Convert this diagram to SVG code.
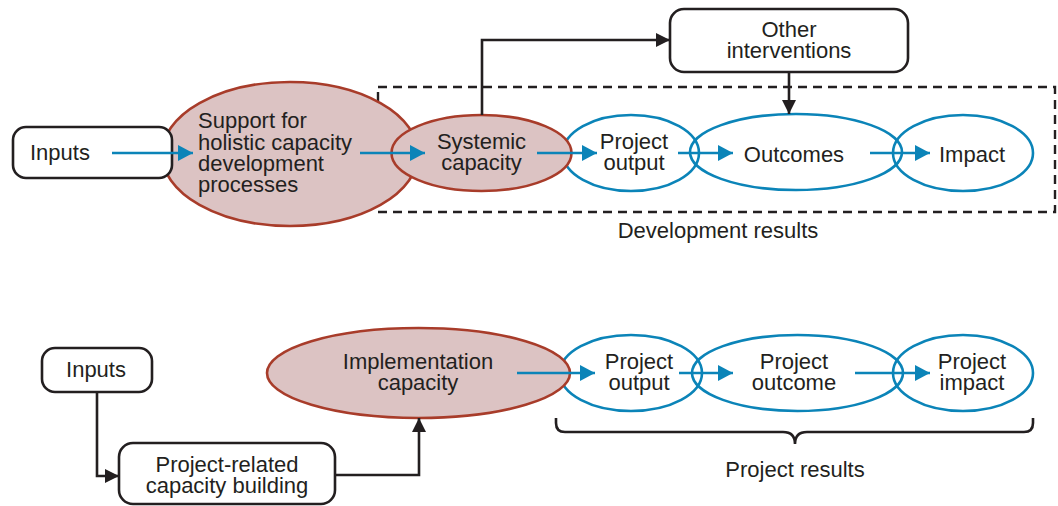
<svg xmlns="http://www.w3.org/2000/svg" width="1058" height="506" viewBox="0 0 1058 506">
<defs>
<style>
text{font-family:"Liberation Sans",Arial,sans-serif;font-size:22px;fill:#231f20}
.c{text-anchor:middle}
.box{fill:#fff;stroke:#231f20;stroke-width:2.6}
.res{fill:none;stroke:#0b84b8;stroke-width:2.6}
.cap{fill:#dcc3c3;stroke:#a83c2a;stroke-width:2.6}
.blue{fill:none;stroke:#0b84b8;stroke-width:2.6}
.blk{fill:none;stroke:#231f20;stroke-width:2.6}
</style>
<marker id="ab" markerWidth="15" markerHeight="16" refX="15" refY="8" orient="auto" markerUnits="userSpaceOnUse"><path d="M0,0 L15,8 L0,16 Z" fill="#0b84b8"/></marker>
<marker id="ak" markerWidth="14" markerHeight="14" refX="14" refY="7" orient="auto" markerUnits="userSpaceOnUse"><path d="M0,0 L14,7 L0,14 Z" fill="#231f20"/></marker>
</defs>
<rect width="1058" height="506" fill="#fff"/>

<g id="dev-results">
<rect x="378" y="87" width="677" height="125" fill="none" stroke="#231f20" stroke-width="2.4" stroke-dasharray="9 6"/>
<text class="c" x="718" y="238">Development results</text>
</g>

<g id="support">
<ellipse class="cap" cx="290" cy="154" rx="128" ry="72"/>
<text x="198" y="128">Support for</text>
<text x="198" y="150">holistic capacity</text>
<text x="198" y="171">development</text>
<text x="198" y="192">processes</text>
</g>
<g id="inputs-top">
<rect class="box" x="13" y="127" width="159" height="51" rx="13"/>
<text x="30" y="160">Inputs</text>
</g>
<g id="other">
<rect class="box" x="670" y="9" width="238" height="63" rx="14"/>
<text class="c" x="789" y="37">Other</text>
<text class="c" x="789" y="58">interventions</text>
</g>
<g id="project-output-top">
<ellipse class="res" cx="631" cy="153" rx="68" ry="38"/>
<text class="c" x="634" y="149">Project</text>
<text class="c" x="634" y="170">output</text>
</g>
<g id="outcomes">
<ellipse class="res" cx="796" cy="152" rx="106" ry="38"/>
<text class="c" x="794" y="162">Outcomes</text>
</g>
<g id="impact">
<ellipse class="res" cx="963" cy="153" rx="70" ry="38"/>
<text class="c" x="972" y="162">Impact</text>
</g>
<g id="systemic">
<ellipse class="cap" cx="481.5" cy="153" rx="90" ry="38"/>
<text class="c" x="481.5" y="149">Systemic</text>
<text class="c" x="481.5" y="170">capacity</text>
</g>

<g id="inputs-bottom">
<rect class="box" x="42" y="348" width="110" height="44" rx="13"/>
<text class="c" x="96" y="377">Inputs</text>
</g>
<g id="project-related">
<rect class="box" x="119" y="443" width="216" height="61" rx="14"/>
<text class="c" x="227" y="472">Project-related</text>
<text class="c" x="227" y="493">capacity building</text>
</g>
<g id="project-output">
<ellipse class="res" cx="631" cy="373" rx="71" ry="38"/>
<text class="c" x="639" y="369">Project</text>
<text class="c" x="639" y="390">output</text>
</g>
<g id="project-outcome">
<ellipse class="res" cx="797.5" cy="373" rx="105.5" ry="38"/>
<text class="c" x="794" y="369">Project</text>
<text class="c" x="794" y="390">outcome</text>
</g>
<g id="project-impact">
<ellipse class="res" cx="963" cy="373" rx="70" ry="38"/>
<text class="c" x="972" y="369">Project</text>
<text class="c" x="972" y="390">impact</text>
</g>
<g id="implementation">
<ellipse class="cap" cx="418.5" cy="373" rx="151.5" ry="45"/>
<text class="c" x="418" y="369">Implementation</text>
<text class="c" x="418" y="390">capacity</text>
</g>
<g id="project-results">
<path class="blk" d="M556,418 v5 q0,9 9,9 H783 q12,0 12,12 q0,-12 12,-12 H1024 q9,0 9,-9 v-5"/>
<text class="c" x="795" y="477">Project results</text>
</g>

<g id="connectors">
<line class="blue" x1="112" y1="153" x2="193" y2="153" marker-end="url(#ab)"/>
<line class="blue" x1="360" y1="153" x2="425" y2="153" marker-end="url(#ab)"/>
<line class="blue" x1="537" y1="153" x2="597" y2="153" marker-end="url(#ab)"/>
<line class="blue" x1="678" y1="153" x2="733" y2="153" marker-end="url(#ab)"/>
<line class="blue" x1="870" y1="153" x2="930" y2="153" marker-end="url(#ab)"/>
<polyline class="blk" points="482,115 482,40 670,40" marker-end="url(#ak)"/>
<line class="blk" x1="789" y1="72" x2="789" y2="114" marker-end="url(#ak)"/>
<line class="blue" x1="517" y1="373" x2="595" y2="373" marker-end="url(#ab)"/>
<line class="blue" x1="679" y1="373" x2="733" y2="373" marker-end="url(#ab)"/>
<line class="blue" x1="855" y1="373" x2="930" y2="373" marker-end="url(#ab)"/>
<polyline class="blk" points="97,392 97,476 119,476" marker-end="url(#ak)"/>
<polyline class="blk" points="335,475 419,475 419,418" marker-end="url(#ak)"/>
</g>
</svg>
